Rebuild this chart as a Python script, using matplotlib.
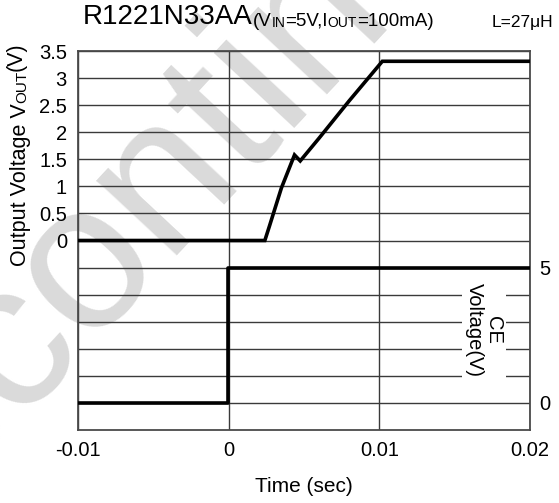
# R1221N33AA start-up waveform (Vout / CE vs time)
import numpy as np
import matplotlib.pyplot as plt

plt.rcParams['font.family'] = ['Liberation Sans', 'DejaVu Sans']

# data
t_out = [-0.01, 0.0024, 0.0027, 0.0035, 0.00437, 0.00475, 0.0060, 0.0080, 0.0102, 0.02]
v_out = [0.0, 0.0, 0.26, 0.97, 1.58, 1.47, 1.89, 2.58, 3.31, 3.31]
t_ce = [-0.01, -0.00005, -0.00005, 0.02]
v_ce = [0.0, 0.0, 5.0, 5.0]

x_ticks = [-0.01, 0, 0.01, 0.02]
x_labels = ['-0.01', '0', '0.01', '0.02']
left_ticks = [0, 0.5, 1, 1.5, 2, 2.5, 3, 3.5]
left_labels = ['0', '0.5', '1', '1.5', '2', '2.5', '3', '3.5']
right_ticks = [0, 5]

grid_c = '#3a3a3a'
fig = plt.figure(figsize=(5.59, 5.03), dpi=100)

# watermark
fig.text(0.32, 0.69, 'Discontinued', fontsize=150, color='#dadada',
         rotation=47, ha='center', va='center', zorder=-5)

ax = fig.add_axes([78 / 559, 1 - 430 / 503, 452 / 559, 379 / 503])
ax.set_facecolor('none')
ax.set_xlim(-0.01, 0.02)
ax.set_ylim(-3.5, 3.5)
ax.set_xticks(x_ticks)
ax.set_xticklabels(x_labels)
ax.set_yticks(left_ticks)
ax.set_yticklabels(left_labels)
ax.set_yticks(np.arange(-3.0, 0.0, 0.5), minor=True)
ax.tick_params(axis='both', which='both', length=0, labelsize=14.5, colors='black')
ax.tick_params(axis='x', pad=8)
ax.tick_params(axis='y', pad=8)
ax.grid(which='both', axis='y', color=grid_c, lw=1.0)
ax.grid(which='major', axis='x', color=grid_c, lw=1.0)
for s in ax.spines.values():
    s.set_color('#4a4a4a')
    s.set_linewidth(1.3)

ax.plot(t_out, v_out, color='black', lw=2.6, solid_joinstyle='miter', zorder=4)

ax2 = ax.twinx()
ax2.set_ylim(-1, 13)
ax2.set_yticks(right_ticks)
ax2.tick_params(axis='y', length=0, labelsize=14.5, pad=7)
for s in ax2.spines.values():
    s.set_visible(False)
ax2.plot(t_ce, v_ce, color='black', lw=2.6, zorder=4)

ax2.text(0.898, 0.264, 'CE\nVoltage(V)', transform=ax2.transAxes, rotation=270,
         fontsize=14.5, ha='center', va='center', multialignment='center',
         linespacing=1.0, zorder=5,
         bbox=dict(facecolor='white', edgecolor='none', pad=2))

ax.set_xlabel('Time (sec)', fontsize=15, labelpad=12)

# title pieces (small caps for subscripts)
t1 = fig.text(83 / 559, 1 - 30 / 503, 'R1221N33AA', fontsize=20, ha='left', va='bottom')
pieces = [('(V', 13.5), ('IN', 10), ('=5V,I', 13.5), ('OUT', 10), ('=100mA)', 13.5)]
prev = t1
for txt, sz in pieces:
    prev = ax.annotate(txt, xy=(1, 0), xycoords=prev, ha='left', va='bottom',
                       fontsize=sz, annotation_clip=False)
fig.text(553 / 559, 1 - 30 / 503, 'L=27μH', fontsize=12.5, ha='right', va='bottom')

# y label pieces (rotated)
y1 = fig.text(31 / 559, 1 - 266 / 503, 'Output Voltage V', fontsize=15.5,
              rotation=90, ha='right', va='bottom')
prev = y1
for txt, sz in [('OUT', 11), ('(V)', 15.5)]:
    prev = ax.annotate(txt, xy=(1, 1), xycoords=prev, ha='right', va='bottom',
                       fontsize=sz, rotation=90, annotation_clip=False,
                       xytext=(-1.5, 0), textcoords='offset points')

fig.savefig('out.png', dpi=100)
